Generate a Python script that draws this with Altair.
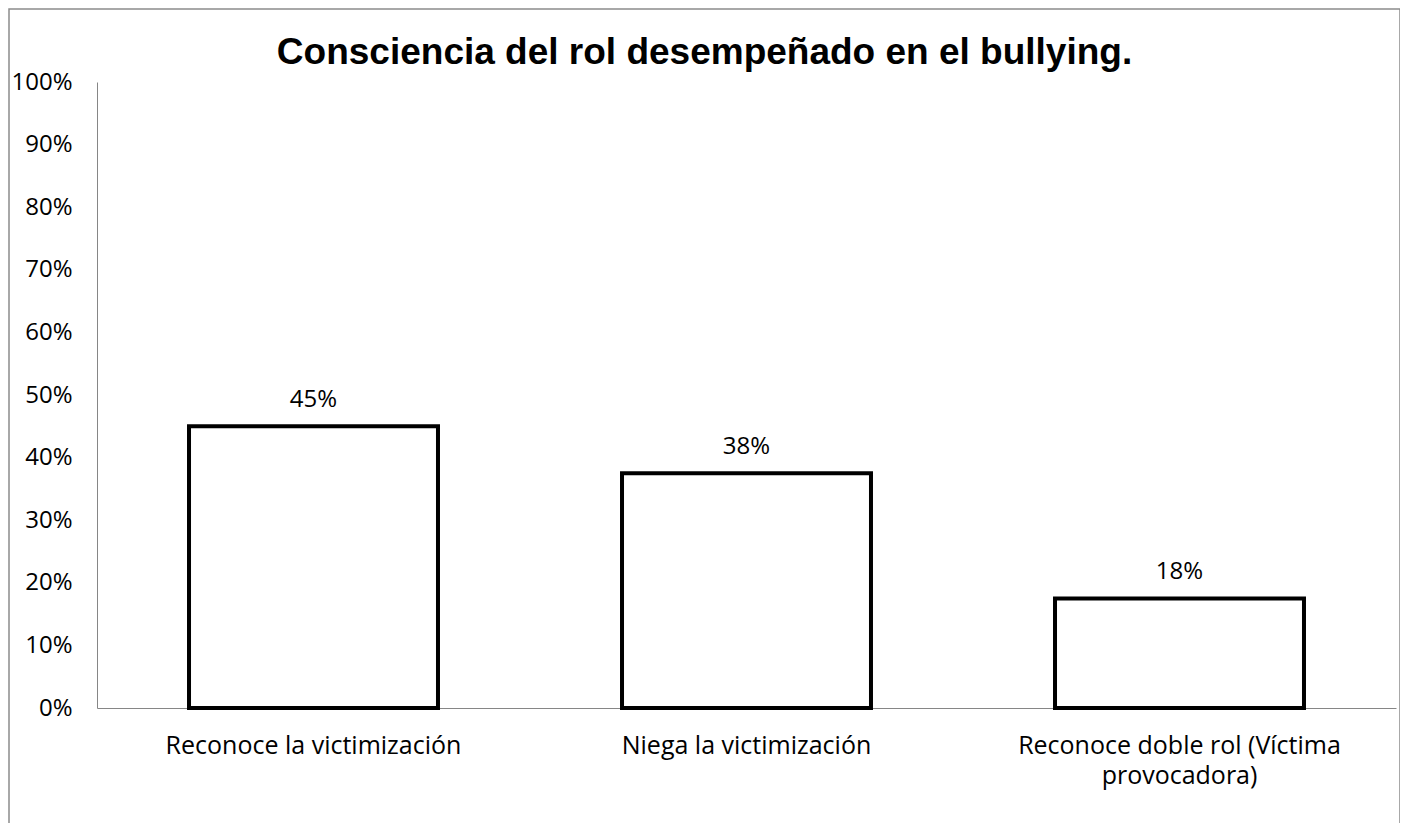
import altair as alt
import pandas as pd

categories = ["Reconoce la victimización", "Niega la victimización", "Reconoce doble rol (Víctima provocadora)"]
values = [0.45, 0.375, 0.175]
value_labels = ["45%", "38%", "18%"]

df = pd.DataFrame({"cat": categories, "val": values, "lab": value_labels})

FONT = "Open Sans"
W, H = 1299, 626

xenc = alt.X("cat:N", sort=categories, title=None,
             scale=alt.Scale(paddingInner=0.425, paddingOuter=0.2125),
             axis=alt.Axis(labelAngle=0, labelFont=FONT, labelFontSize=25, labelColor="#000000",
                           labelPadding=25, labelLineHeight=30, ticks=False,
                           domainColor="#868686", domainWidth=1, labelLimit=500,
                           labelExpr="datum.label == 'Reconoce doble rol (Víctima provocadora)' ? ['Reconoce doble rol (Víctima', 'provocadora)'] : datum.label"))
yenc = alt.Y("val:Q", title=None,
             scale=alt.Scale(domain=[0, 1]),
             axis=alt.Axis(format=".0%", values=[i / 10 for i in range(11)], grid=False, ticks=False,
                           labelFont=FONT, labelFontSize=24, labelColor="#000000", labelPadding=25,
                           domainColor="#868686", domainWidth=1))

bars = alt.Chart(df).mark_bar(fill="white", stroke="black", strokeWidth=4, strokeJoin="miter").encode(
    x=xenc, y=yenc)

texts = alt.Chart(df).mark_text(font=FONT, fontSize=24, color="black", baseline="alphabetic", dy=-19).encode(
    x=alt.X("cat:N", sort=categories), y="val:Q", text="lab:N")

frame = alt.Chart(pd.DataFrame({"f": [0]})).mark_rect(filled=False, stroke="#8c8c8c", strokeWidth=1.5).encode(
    x=alt.value(-88), x2=alt.value(1303), y=alt.value(-73), y2=alt.value(780))

chart = alt.layer(frame, bars, texts).properties(
    width=W, height=H,
    title=alt.TitleParams("Consciencia del rol desempeñado en el bullying.", font="Liberation Sans",
                          fontSize=37, fontWeight="bold", color="black", anchor="middle", frame="group",
                          dx=-42, offset=-64),
    autosize=alt.AutoSizeParams(type="none"),
    padding={"left": 89, "top": 74, "right": 4, "bottom": 115},
).configure(background="white").configure_view(strokeWidth=0, stroke="transparent")

chart.save("out.html", embed_options={"renderer": "svg", "actions": False})
